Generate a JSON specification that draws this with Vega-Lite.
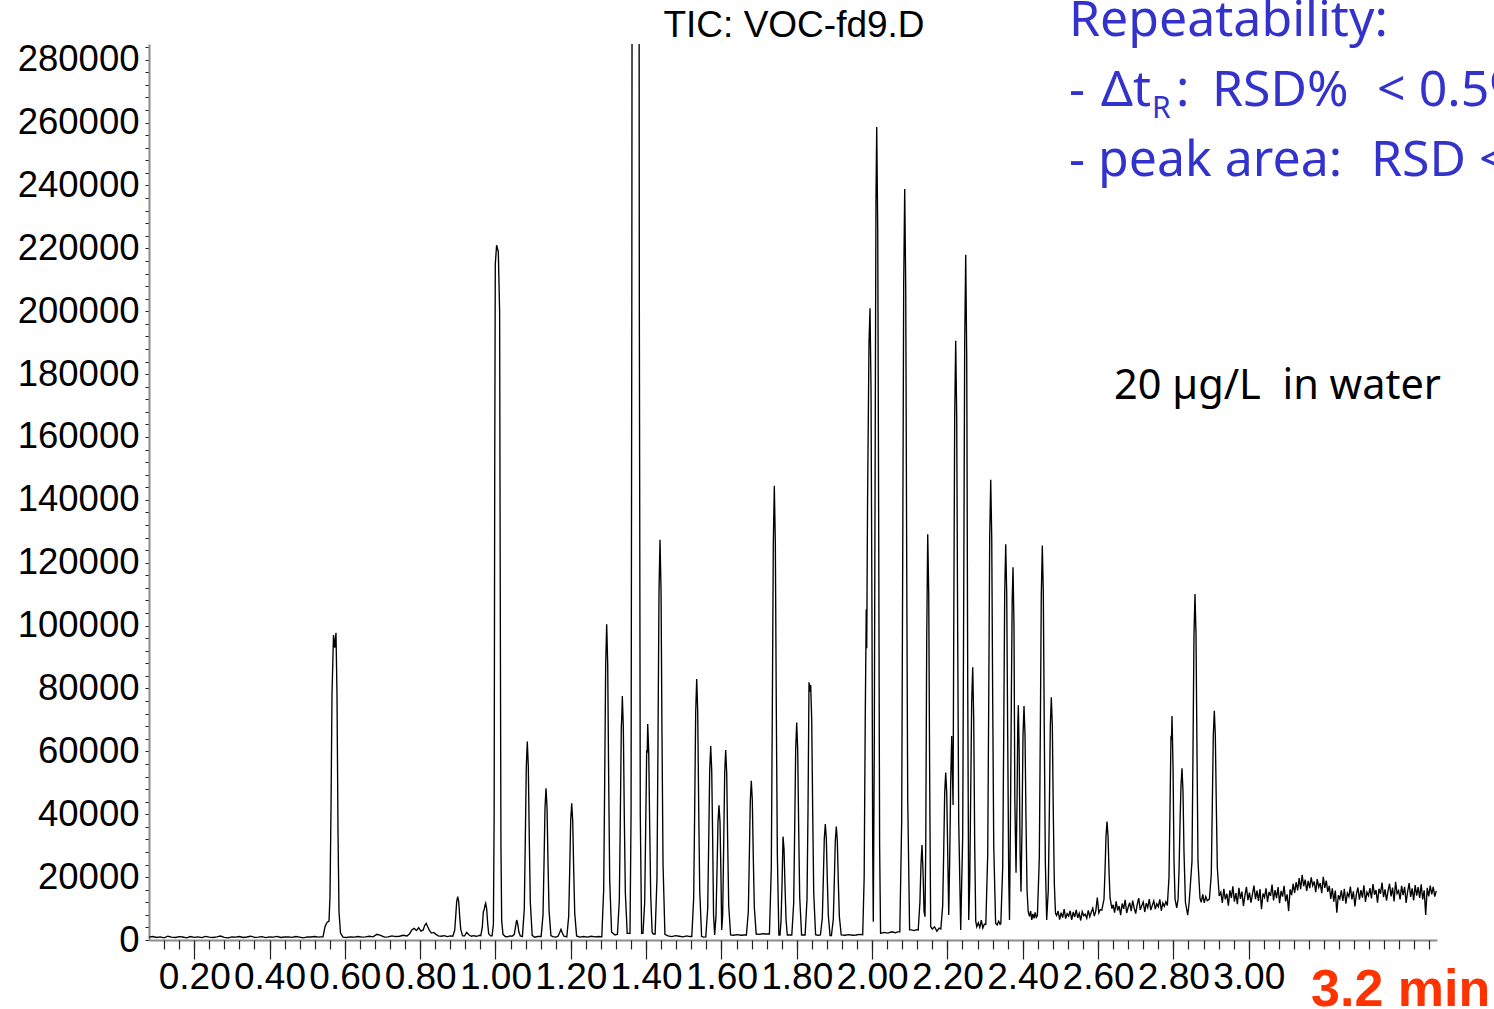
{
"$schema": "https://vega.github.io/schema/vega-lite/v6.json",
"width": 1288, "height": 896,
"autosize": {"type": "none"},
"padding": {"left": 149, "top": 44, "right": 57, "bottom": 69},
"background": "white",
"config": {"view": {"stroke": null}, "axis": {"grid": false, "labelFont": "Liberation Sans"}},
"resolve": {"axis": {"x": "independent", "y": "independent"}},
"layer": [
{
"data": {"values": [
{"t":0.08,"v":900},{"t":0.09,"v":1100},{"t":0.10,"v":800},{"t":0.11,"v":1000},{"t":0.12,"v":700},{"t":0.13,"v":1200},{"t":0.14,"v":900},{"t":0.15,"v":800},{"t":0.16,"v":1050},{"t":0.17,"v":950},{"t":0.18,"v":700},{"t":0.19,"v":1100},{"t":0.20,"v":850},{"t":0.21,"v":1000},{"t":0.22,"v":750},{"t":0.23,"v":1150},{"t":0.24,"v":900},{"t":0.25,"v":800},{"t":0.26,"v":1000},{"t":0.27,"v":1250},{"t":0.28,"v":850},{"t":0.29,"v":700},{"t":0.30,"v":1000},{"t":0.31,"v":900},{"t":0.32,"v":1100},{"t":0.33,"v":800},{"t":0.34,"v":950},{"t":0.35,"v":1200},{"t":0.36,"v":850},{"t":0.37,"v":900},{"t":0.38,"v":1050},{"t":0.39,"v":750},{"t":0.40,"v":1000},{"t":0.41,"v":900},{"t":0.42,"v":1150},{"t":0.43,"v":800},{"t":0.44,"v":950},{"t":0.45,"v":1000},{"t":0.46,"v":850},{"t":0.47,"v":1100},{"t":0.48,"v":900},{"t":0.49,"v":700},{"t":0.50,"v":1000},{"t":0.51,"v":950},{"t":0.52,"v":1100},{"t":0.53,"v":900},{"t":0.536,"v":1000},
{"t":0.542,"v":1000},{"t":0.5473,"v":4200},{"t":0.5526,"v":5600},{"t":0.558,"v":6000},{"t":0.5606,"v":14000},{"t":0.5633,"v":42000},{"t":0.5659,"v":78000},{"t":0.5699,"v":97000},{"t":0.5731,"v":93000},{"t":0.5765,"v":97700},{"t":0.5792,"v":78000},{"t":0.5819,"v":34000},{"t":0.5845,"v":9000},{"t":0.5885,"v":2200},{"t":0.5951,"v":900},
{"t":0.605,"v":800},{"t":0.615,"v":1000},{"t":0.625,"v":900},{"t":0.635,"v":1100},{"t":0.645,"v":900},{"t":0.655,"v":1000},{"t":0.665,"v":1200},{"t":0.675,"v":1000},{"t":0.685,"v":1800},{"t":0.695,"v":1500},{"t":0.705,"v":900},{"t":0.715,"v":1000},{"t":0.725,"v":1300},{"t":0.735,"v":1100},{"t":0.745,"v":1200},{"t":0.755,"v":1500},
{"t":0.765,"v":1300},{"t":0.772,"v":2000},{"t":0.778,"v":3200},{"t":0.784,"v":3700},{"t":0.79,"v":3000},{"t":0.796,"v":3900},{"t":0.802,"v":2800},{"t":0.808,"v":3200},{"t":0.812,"v":4600},{"t":0.816,"v":5300},{"t":0.82,"v":4200},{"t":0.825,"v":3000},{"t":0.83,"v":2200},{"t":0.836,"v":2400},{"t":0.842,"v":1800},{"t":0.848,"v":1300},{"t":0.856,"v":1200},{"t":0.864,"v":1400},{"t":0.872,"v":1100},{"t":0.88,"v":1300},
{"t":0.8867,"v":1200},{"t":0.8917,"v":3100},{"t":0.8944,"v":7500},{"t":0.897,"v":12200},{"t":0.8997,"v":13780},{"t":0.9024,"v":12200},{"t":0.905,"v":7500},{"t":0.9077,"v":3400},{"t":0.9127,"v":1300},{"t":0.918,"v":1300},{"t":0.9236,"v":2400},{"t":0.93,"v":1600},{"t":0.936,"v":1200},{"t":0.942,"v":1400},{"t":0.948,"v":1200},{"t":0.954,"v":1300},{"t":0.958,"v":1500},
{"t":0.961,"v":1400},{"t":0.965,"v":4000},{"t":0.9677,"v":9000},{"t":0.97,"v":9600},{"t":0.972,"v":11000},{"t":0.974,"v":11680},{"t":0.9767,"v":9800},{"t":0.9793,"v":5300},{"t":0.982,"v":2000},{"t":0.987,"v":1300},
{"t":0.991,"v":1300},{"t":0.9945,"v":5000},{"t":0.9965,"v":40000},{"t":0.998,"v":150000},{"t":0.9995,"v":215000},{"t":1.003,"v":221000},{"t":1.0075,"v":219000},{"t":1.011,"v":200000},{"t":1.0125,"v":120000},{"t":1.0145,"v":30000},{"t":1.0165,"v":6000},{"t":1.02,"v":1800},{"t":1.026,"v":1100},{"t":1.032,"v":1000},{"t":1.038,"v":1300},
{"t":1.044,"v":1200},{"t":1.05,"v":1800},{"t":1.0536,"v":4500},{"t":1.0563,"v":6360},{"t":1.059,"v":5200},{"t":1.062,"v":2600},{"t":1.066,"v":1300},
{"t":1.0715,"v":1100},{"t":1.0765,"v":9800},{"t":1.0792,"v":32000},{"t":1.0818,"v":55000},{"t":1.0845,"v":63100},{"t":1.0872,"v":55000},{"t":1.0898,"v":32000},{"t":1.0925,"v":12000},{"t":1.0975,"v":1500},{"t":1.104,"v":900},{"t":1.112,"v":1100},
{"t":1.1212,"v":1100},{"t":1.1262,"v":8000},{"t":1.1289,"v":24500},{"t":1.1315,"v":42000},{"t":1.1342,"v":48260},{"t":1.1369,"v":42000},{"t":1.1395,"v":24500},{"t":1.1422,"v":9500},{"t":1.1472,"v":1400},
{"t":1.152,"v":1100},{"t":1.16,"v":900},{"t":1.166,"v":1200},{"t":1.17,"v":2200},{"t":1.174,"v":3400},{"t":1.178,"v":2100},{"t":1.182,"v":1200},
{"t":1.1894,"v":1000},{"t":1.1944,"v":7500},{"t":1.1971,"v":22300},{"t":1.1997,"v":37900},{"t":1.2024,"v":43500},{"t":1.2051,"v":37900},{"t":1.2077,"v":22300},{"t":1.2104,"v":8600},{"t":1.2154,"v":1300},
{"t":1.224,"v":900},{"t":1.234,"v":1100},{"t":1.244,"v":900},{"t":1.254,"v":1200},{"t":1.264,"v":1000},{"t":1.274,"v":1100},
{"t":1.2823,"v":1000},{"t":1.2873,"v":16000},{"t":1.29,"v":50700},{"t":1.2926,"v":87500},{"t":1.2953,"v":100440},{"t":1.298,"v":87500},{"t":1.3006,"v":50700},{"t":1.3033,"v":19000},{"t":1.3083,"v":2500},{"t":1.3174,"v":1600},
{"t":1.3238,"v":1800},{"t":1.3288,"v":12500},{"t":1.3315,"v":39000},{"t":1.3341,"v":67500},{"t":1.3358,"v":72640},{"t":1.3368,"v":77630},{"t":1.3395,"v":67500},{"t":1.3421,"v":39000},{"t":1.3448,"v":15000},{"t":1.3498,"v":2100},
{"t":1.3572,"v":2100},{"t":1.36,"v":40000},{"t":1.362,"v":200000},{"t":1.364,"v":500000},{"t":1.372,"v":800000},{"t":1.38,"v":500000},{"t":1.382,"v":200000},{"t":1.3845,"v":40000},{"t":1.388,"v":2100},
{"t":1.3917,"v":2200},{"t":1.3962,"v":12000},{"t":1.3989,"v":36000},{"t":1.4015,"v":60000},{"t":1.403,"v":59900},{"t":1.4042,"v":68720},{"t":1.4069,"v":60000},{"t":1.4095,"v":36000},{"t":1.4122,"v":14000},{"t":1.416,"v":2400},{"t":1.4191,"v":1900},
{"t":1.4239,"v":1900},{"t":1.4289,"v":20000},{"t":1.4316,"v":64500},{"t":1.4342,"v":111000},{"t":1.4369,"v":127270},{"t":1.4396,"v":111000},{"t":1.4422,"v":64500},{"t":1.4449,"v":24000},{"t":1.4499,"v":1800},
{"t":1.458,"v":1300},{"t":1.468,"v":1100},{"t":1.478,"v":1400},{"t":1.488,"v":1200},{"t":1.498,"v":1000},{"t":1.508,"v":1300},{"t":1.516,"v":1100},
{"t":1.5213,"v":1100},{"t":1.5263,"v":13400},{"t":1.529,"v":42000},{"t":1.5316,"v":72400},{"t":1.5343,"v":83040},{"t":1.537,"v":72400},{"t":1.5396,"v":42000},{"t":1.5423,"v":15800},{"t":1.5473,"v":1200},{"t":1.5518,"v":900},
{"t":1.5585,"v":1000},{"t":1.5635,"v":10000},{"t":1.5662,"v":31300},{"t":1.5688,"v":53800},{"t":1.5715,"v":61720},{"t":1.5742,"v":53800},{"t":1.5768,"v":31300},{"t":1.579,"v":8000},{"t":1.582,"v":1600},
{"t":1.5855,"v":7500},{"t":1.5882,"v":21900},{"t":1.5908,"v":37500},{"t":1.5935,"v":42860},{"t":1.5962,"v":37500},{"t":1.5988,"v":20000},{"t":1.6007,"v":3200},
{"t":1.6033,"v":8000},{"t":1.606,"v":30800},{"t":1.6086,"v":52900},{"t":1.6113,"v":60450},{"t":1.614,"v":52900},{"t":1.6166,"v":30800},{"t":1.6193,"v":11000},{"t":1.6243,"v":1600},
{"t":1.632,"v":1500},{"t":1.642,"v":1700},{"t":1.652,"v":1500},{"t":1.66,"v":1600},
{"t":1.6663,"v":1600},{"t":1.6713,"v":8900},{"t":1.674,"v":26100},{"t":1.6766,"v":44300},{"t":1.6793,"v":50680},{"t":1.682,"v":44300},{"t":1.6846,"v":26100},{"t":1.6873,"v":10400},{"t":1.6923,"v":1900},
{"t":1.7,"v":1800},{"t":1.71,"v":2000},{"t":1.718,"v":1900},
{"t":1.7274,"v":1900},{"t":1.7324,"v":23000},{"t":1.7351,"v":73200},{"t":1.7377,"v":125900},{"t":1.7404,"v":144450},{"t":1.7431,"v":125900},{"t":1.7457,"v":73200},{"t":1.7484,"v":27500},{"t":1.7525,"v":1600},
{"t":1.7555,"v":1600},{"t":1.7582,"v":6000},{"t":1.7608,"v":17200},{"t":1.7635,"v":32870},{"t":1.7662,"v":28800},{"t":1.7688,"v":17200},{"t":1.7715,"v":6500},{"t":1.7748,"v":1600},
{"t":1.7868,"v":1600},{"t":1.7918,"v":11700},{"t":1.7945,"v":35400},{"t":1.7971,"v":60400},{"t":1.7998,"v":69140},{"t":1.8025,"v":60400},{"t":1.8051,"v":35400},{"t":1.8078,"v":13700},{"t":1.8128,"v":1600},
{"t":1.8222,"v":1600},{"t":1.8272,"v":13000},{"t":1.8299,"v":41800},{"t":1.8325,"v":82000},{"t":1.8348,"v":79000},{"t":1.837,"v":81130},{"t":1.8397,"v":70000},{"t":1.8423,"v":41000},{"t":1.845,"v":15000},{"t":1.85,"v":1700},{"t":1.856,"v":1500},
{"t":1.8628,"v":1600},{"t":1.8678,"v":6900},{"t":1.8705,"v":19200},{"t":1.8731,"v":32300},{"t":1.8758,"v":36900},{"t":1.8785,"v":32300},{"t":1.8811,"v":19200},{"t":1.8838,"v":7800},{"t":1.8883,"v":1400},
{"t":1.892,"v":1400},{"t":1.897,"v":6600},{"t":1.8997,"v":18700},{"t":1.9023,"v":31500},{"t":1.905,"v":36050},{"t":1.9077,"v":31500},{"t":1.9103,"v":18700},{"t":1.913,"v":7600},{"t":1.918,"v":1600},
{"t":1.928,"v":1500},{"t":1.938,"v":1700},{"t":1.948,"v":1500},{"t":1.958,"v":1600},{"t":1.966,"v":1800},
{"t":1.9751,"v":1700},{"t":1.979,"v":20000},{"t":1.9818,"v":70000},{"t":1.9845,"v":105200},{"t":1.9858,"v":92800},{"t":1.988,"v":140000},{"t":1.9918,"v":190000},{"t":1.9945,"v":200970},{"t":1.9972,"v":175000},{"t":1.9998,"v":100000},{"t":2.0016,"v":30000},{"t":2.0032,"v":5820},
{"t":2.0058,"v":60000},{"t":2.0083,"v":160000},{"t":2.0103,"v":235000},{"t":2.0123,"v":258580},{"t":2.015,"v":225000},{"t":2.0176,"v":129000},{"t":2.02,"v":30000},{"t":2.0225,"v":2100},
{"t":2.032,"v":2400},{"t":2.042,"v":2200},{"t":2.052,"v":2600},{"t":2.062,"v":2300},{"t":2.068,"v":2600},
{"t":2.0736,"v":2600},{"t":2.0786,"v":38000},{"t":2.0813,"v":120700},{"t":2.0839,"v":208000},{"t":2.0866,"v":238850},{"t":2.0893,"v":208000},{"t":2.0919,"v":120700},{"t":2.0946,"v":45000},{"t":2.0996,"v":3200},
{"t":2.104,"v":3200},{"t":2.112,"v":3000},{"t":2.118,"v":3300},
{"t":2.1225,"v":3200},{"t":2.127,"v":12000},{"t":2.1298,"v":24000},{"t":2.1325,"v":30230},{"t":2.1352,"v":22000},{"t":2.138,"v":9000},{"t":2.1405,"v":7400},{"t":2.1425,"v":30000},{"t":2.145,"v":95000},{"t":2.1477,"v":129080},{"t":2.1504,"v":110000},{"t":2.153,"v":50000},{"t":2.1556,"v":4240},
{"t":2.16,"v":3500},{"t":2.166,"v":4200},{"t":2.172,"v":2800},{"t":2.178,"v":3800},
{"t":2.1825,"v":3500},{"t":2.1875,"v":11000},{"t":2.1902,"v":28300},{"t":2.1928,"v":46800},{"t":2.1955,"v":53230},{"t":2.1982,"v":46800},{"t":2.2008,"v":28000},{"t":2.2035,"v":7950},
{"t":2.206,"v":25000},{"t":2.2087,"v":50000},{"t":2.2114,"v":64900},{"t":2.215,"v":42950},{"t":2.2167,"v":95000},{"t":2.2193,"v":166000},{"t":2.222,"v":190580},{"t":2.2247,"v":166000},{"t":2.2273,"v":96000},{"t":2.23,"v":38000},{"t":2.2353,"v":3180},
{"t":2.2406,"v":33000},{"t":2.2433,"v":109000},{"t":2.2459,"v":190000},{"t":2.2486,"v":217940},{"t":2.2513,"v":185000},{"t":2.254,"v":80000},{"t":2.2566,"v":6360},
{"t":2.2592,"v":18000},{"t":2.2619,"v":47000},{"t":2.2645,"v":76000},{"t":2.2672,"v":86770},{"t":2.2699,"v":70000},{"t":2.2725,"v":30000},{"t":2.2752,"v":6000},{"t":2.278,"v":4240},
{"t":2.282,"v":5500},{"t":2.286,"v":4000},{"t":2.29,"v":6300},{"t":2.294,"v":3800},{"t":2.298,"v":5000},
{"t":2.302,"v":5000},{"t":2.307,"v":27000},{"t":2.3097,"v":75700},{"t":2.3123,"v":128000},{"t":2.315,"v":146360},{"t":2.3177,"v":128000},{"t":2.3203,"v":75700},{"t":2.323,"v":30000},{"t":2.328,"v":5300},
{"t":2.332,"v":4800},{"t":2.336,"v":6000},{"t":2.34,"v":5000},
{"t":2.3418,"v":5200},{"t":2.3468,"v":23000},{"t":2.3495,"v":65000},{"t":2.3521,"v":110000},{"t":2.3548,"v":125900},{"t":2.3575,"v":110000},{"t":2.3601,"v":65000},{"t":2.3628,"v":20000},{"t":2.3649,"v":6400},
{"t":2.3675,"v":40000},{"t":2.37,"v":80000},{"t":2.372,"v":108000},{"t":2.3742,"v":118580},{"t":2.3768,"v":100000},{"t":2.379,"v":45000},{"t":2.3822,"v":21400},
{"t":2.385,"v":45000},{"t":2.3868,"v":68000},{"t":2.3883,"v":74680},{"t":2.3905,"v":60000},{"t":2.393,"v":28000},{"t":2.3954,"v":15370},
{"t":2.398,"v":35000},{"t":2.4007,"v":65000},{"t":2.4034,"v":74450},{"t":2.4061,"v":65000},{"t":2.4087,"v":38000},{"t":2.4114,"v":16000},{"t":2.4145,"v":9000},
{"t":2.418,"v":7500},{"t":2.421,"v":9200},{"t":2.424,"v":6400},{"t":2.427,"v":8300},{"t":2.43,"v":6900},{"t":2.433,"v":8800},{"t":2.436,"v":7200},
{"t":2.439,"v":7800},{"t":2.444,"v":26000},{"t":2.4467,"v":66000},{"t":2.4493,"v":110000},{"t":2.452,"v":125470},{"t":2.4547,"v":110000},{"t":2.4573,"v":66000},{"t":2.46,"v":25000},{"t":2.4636,"v":6360},
{"t":2.4679,"v":16000},{"t":2.4706,"v":40000},{"t":2.4732,"v":68000},{"t":2.4759,"v":77220},{"t":2.4786,"v":68000},{"t":2.4812,"v":40000},{"t":2.4839,"v":18000},{"t":2.487,"v":8500},
{"t":2.490,"v":7800},{"t":2.494,"v":9200},{"t":2.498,"v":6500},{"t":2.502,"v":8700},{"t":2.506,"v":7100},{"t":2.510,"v":9800},{"t":2.514,"v":6800},{"t":2.518,"v":8400},{"t":2.522,"v":7600},{"t":2.526,"v":9300},{"t":2.530,"v":6400},{"t":2.534,"v":8900},{"t":2.538,"v":7300},{"t":2.542,"v":9600},{"t":2.546,"v":7000},{"t":2.550,"v":8500},{"t":2.554,"v":6200},{"t":2.558,"v":9000},{"t":2.562,"v":7700},{"t":2.566,"v":8200},{"t":2.570,"v":6900},{"t":2.574,"v":9400},{"t":2.578,"v":7400},{"t":2.582,"v":8800},{"t":2.586,"v":10100},{"t":2.590,"v":7600},{"t":2.594,"v":9200},{"t":2.598,"v":13500},{"t":2.602,"v":8600},{"t":2.606,"v":9700},{"t":2.610,"v":9500},
{"t":2.6158,"v":13000},{"t":2.6185,"v":22000},{"t":2.6211,"v":33000},{"t":2.6238,"v":37640},{"t":2.6265,"v":33000},{"t":2.6291,"v":22000},{"t":2.6318,"v":13500},{"t":2.6368,"v":10000},
{"t":2.640,"v":11200},{"t":2.644,"v":8700},{"t":2.648,"v":12300},{"t":2.652,"v":9400},{"t":2.656,"v":10800},{"t":2.660,"v":7900},{"t":2.664,"v":11600},{"t":2.668,"v":9900},{"t":2.672,"v":12800},{"t":2.676,"v":8600},{"t":2.680,"v":10400},{"t":2.684,"v":11900},{"t":2.688,"v":9200},{"t":2.692,"v":12500},{"t":2.696,"v":10100},{"t":2.700,"v":8400},{"t":2.704,"v":11300},{"t":2.708,"v":13300},{"t":2.712,"v":9600},{"t":2.716,"v":10900},{"t":2.720,"v":12100},{"t":2.724,"v":8900},{"t":2.728,"v":11700},{"t":2.732,"v":10300},{"t":2.736,"v":13000},{"t":2.740,"v":9500},{"t":2.744,"v":11000},{"t":2.748,"v":12400},{"t":2.752,"v":9800},{"t":2.756,"v":11500},{"t":2.760,"v":10600},{"t":2.764,"v":12900},{"t":2.768,"v":9300},{"t":2.772,"v":11800},{"t":2.776,"v":10700},{"t":2.780,"v":12200},{"t":2.784,"v":11000},
{"t":2.7884,"v":20000},{"t":2.7911,"v":42000},{"t":2.7937,"v":65000},{"t":2.795,"v":63630},{"t":2.7964,"v":71270},{"t":2.7991,"v":55000},{"t":2.8017,"v":25000},{"t":2.8045,"v":13000},{"t":2.8089,"v":10180},
{"t":2.8125,"v":13000},{"t":2.8152,"v":23000},{"t":2.8176,"v":37000},{"t":2.8202,"v":49000},{"t":2.8229,"v":54630},{"t":2.8256,"v":47000},{"t":2.8282,"v":28000},{"t":2.832,"v":12000},{"t":2.8381,"v":7950},
{"t":2.842,"v":12000},{"t":2.8494,"v":25000},{"t":2.8521,"v":60000},{"t":2.8547,"v":97000},{"t":2.8574,"v":110080},{"t":2.8601,"v":97000},{"t":2.8627,"v":60000},{"t":2.8654,"v":25000},{"t":2.8707,"v":13270},
{"t":2.874,"v":12000},{"t":2.878,"v":14500},{"t":2.882,"v":11800},{"t":2.886,"v":13800},{"t":2.89,"v":12500},
{"t":2.8957,"v":13000},{"t":2.9007,"v":21000},{"t":2.9034,"v":43000},{"t":2.906,"v":65000},{"t":2.9087,"v":72950},{"t":2.9114,"v":65000},{"t":2.914,"v":43000},{"t":2.9167,"v":23000},{"t":2.9217,"v":14000},
{"t":2.926,"v":15200},{"t":2.930,"v":11800},{"t":2.934,"v":16300},{"t":2.938,"v":12900},{"t":2.942,"v":14700},{"t":2.946,"v":10900},{"t":2.950,"v":15800},{"t":2.954,"v":13400},{"t":2.958,"v":17100},{"t":2.962,"v":12200},
{"t":2.966,"v":14900},{"t":2.970,"v":11400},{"t":2.974,"v":16600},{"t":2.978,"v":13100},{"t":2.982,"v":15400},{"t":2.986,"v":10800},{"t":2.990,"v":14200},{"t":2.994,"v":16900},{"t":2.998,"v":12700},{"t":3.002,"v":15100},
{"t":3.006,"v":11900},{"t":3.010,"v":14600},{"t":3.014,"v":17300},{"t":3.018,"v":13000},{"t":3.022,"v":15700},{"t":3.026,"v":12400},{"t":3.030,"v":16200},{"t":3.034,"v":9800},{"t":3.038,"v":14800},{"t":3.042,"v":13600},
{"t":3.046,"v":16400},{"t":3.050,"v":12100},{"t":3.054,"v":15300},{"t":3.058,"v":14000},{"t":3.062,"v":17600},{"t":3.066,"v":12600},{"t":3.070,"v":15900},{"t":3.074,"v":13300},{"t":3.078,"v":16800},{"t":3.082,"v":11700},
{"t":3.086,"v":15600},{"t":3.090,"v":13800},{"t":3.094,"v":17200},{"t":3.098,"v":12300},{"t":3.102,"v":14500},{"t":3.106,"v":9200},{"t":3.110,"v":16100},{"t":3.114,"v":14300},{"t":3.118,"v":17900},{"t":3.122,"v":15000},
{"t":3.126,"v":18400},{"t":3.130,"v":15800},{"t":3.134,"v":19700},{"t":3.138,"v":16200},{"t":3.142,"v":20700},{"t":3.146,"v":17100},{"t":3.150,"v":19200},{"t":3.154,"v":15600},{"t":3.158,"v":18800},{"t":3.162,"v":16500},
{"t":3.166,"v":19900},{"t":3.170,"v":17300},{"t":3.174,"v":18600},{"t":3.178,"v":15200},{"t":3.182,"v":19400},{"t":3.186,"v":16800},{"t":3.190,"v":18100},{"t":3.194,"v":14900},{"t":3.198,"v":20100},{"t":3.202,"v":16600},
{"t":3.206,"v":18900},{"t":3.210,"v":15300},{"t":3.214,"v":17200},{"t":3.218,"v":13100},{"t":3.222,"v":16400},{"t":3.226,"v":12200},{"t":3.230,"v":15700},{"t":3.234,"v":8700},{"t":3.238,"v":14200},{"t":3.242,"v":13100},
{"t":3.246,"v":15800},{"t":3.250,"v":12400},{"t":3.254,"v":16300},{"t":3.258,"v":11600},{"t":3.262,"v":14900},{"t":3.266,"v":13800},{"t":3.270,"v":17000},{"t":3.274,"v":12900},{"t":3.278,"v":15500},{"t":3.282,"v":10700},
{"t":3.286,"v":14600},{"t":3.290,"v":16700},{"t":3.294,"v":12800},{"t":3.298,"v":15900},{"t":3.302,"v":13500},{"t":3.306,"v":17400},{"t":3.310,"v":12100},{"t":3.314,"v":15200},{"t":3.318,"v":14100},{"t":3.322,"v":16500},
{"t":3.326,"v":13200},{"t":3.330,"v":17800},{"t":3.334,"v":14400},{"t":3.338,"v":15900},{"t":3.342,"v":11900},{"t":3.346,"v":16300},{"t":3.350,"v":14700},{"t":3.354,"v":18300},{"t":3.358,"v":13600},{"t":3.362,"v":16100},
{"t":3.366,"v":12500},{"t":3.370,"v":15600},{"t":3.374,"v":17900},{"t":3.378,"v":13900},{"t":3.382,"v":16700},{"t":3.386,"v":12300},{"t":3.390,"v":18500},{"t":3.394,"v":14800},{"t":3.398,"v":15700},{"t":3.402,"v":12900},
{"t":3.406,"v":17200},{"t":3.410,"v":14300},{"t":3.414,"v":16900},{"t":3.418,"v":11800},{"t":3.422,"v":15400},{"t":3.426,"v":18100},{"t":3.430,"v":13700},{"t":3.434,"v":16400},{"t":3.438,"v":12600},{"t":3.442,"v":17500},
{"t":3.446,"v":14100},{"t":3.450,"v":16800},{"t":3.454,"v":13400},{"t":3.458,"v":17700},{"t":3.462,"v":12900},{"t":3.466,"v":15800},{"t":3.470,"v":7950},{"t":3.474,"v":16600},{"t":3.478,"v":13900},{"t":3.482,"v":17300},
{"t":3.486,"v":14500},{"t":3.490,"v":16900},{"t":3.494,"v":13800},{"t":3.498,"v":15600}
]},
"mark": {"type": "line", "color": "#000000", "strokeWidth": 1.35, "clip": true},
"encoding": {
"x": {"field": "t", "type": "quantitative", "scale": {"domain": [0.08, 3.5], "nice": false, "zero": false},
 "axis": {"orient": "bottom", "values": [0.2,0.4,0.6,0.8,1.0,1.2,1.4,1.6,1.8,2.0,2.2,2.4,2.6,2.8,3.0], "format": ".2f", "title": null, "grid": false, "labelFont": "Liberation Sans", "labelFontSize": 37, "labelColor": "#000000", "tickSize": 19, "tickColor": "#222222", "tickWidth": 1.2, "domainColor": "#8c8c8c", "domainWidth": 2, "labelPadding": 0, "labelFlush": false, "labelOverlap": false, "labelBound": false}},
"y": {"field": "v", "type": "quantitative", "scale": {"domain": [0, 285000], "nice": false},
 "axis": {"orient": "left", "values": [0,4000,8000,12000,16000,20000,24000,28000,32000,36000,40000,44000,48000,52000,56000,60000,64000,68000,72000,76000,80000,84000,88000,92000,96000,100000,104000,108000,112000,116000,120000,124000,128000,132000,136000,140000,144000,148000,152000,156000,160000,164000,168000,172000,176000,180000,184000,188000,192000,196000,200000,204000,208000,212000,216000,220000,224000,228000,232000,236000,240000,244000,248000,252000,256000,260000,264000,268000,272000,276000,280000,284000], "format": "d", "labelExpr": "datum.value % 20000 == 0 ? datum.label : ''", "title": null, "grid": false, "labelFont": "Liberation Sans", "labelFontSize": 36.5, "labelColor": "#000000", "tickSize": 4, "tickColor": "#222222", "domainColor": "#8c8c8c", "domainWidth": 2, "labelPadding": 6, "labelOverlap": false, "labelFlush": false, "labelBound": false}}
}
},
{
"data": {"values": [{"t": 3.1655, "v": -21000, "label": "3.2 min"}]},
"mark": {"type": "text", "font": "Liberation Sans", "fontSize": 52, "fontWeight": "bold", "color": "#ff3300", "align": "left", "baseline": "alphabetic"},
"encoding": {
"x": {"field": "t", "type": "quantitative", "axis": {"orient": "bottom", "values": [0.12,0.16,0.2,0.24,0.28,0.32,0.36,0.4,0.44,0.48,0.52,0.56,0.6,0.64,0.68,0.72,0.76,0.8,0.84,0.88,0.92,0.96,1,1.04,1.08,1.12,1.16,1.2,1.24,1.28,1.32,1.36,1.4,1.44,1.48,1.52,1.56,1.6,1.64,1.68,1.72,1.76,1.8,1.84,1.88,1.92,1.96,2,2.04,2.08,2.12,2.16,2.2,2.24,2.28,2.32,2.36,2.4,2.44,2.48,2.52,2.56,2.6,2.64,2.68,2.72,2.76,2.8,2.84,2.88,2.92,2.96,3,3.04,3.08,3.12,3.16,3.2,3.24,3.28,3.32,3.36,3.4,3.44,3.48], "labels": false, "domain": false, "tickSize": 9, "tickColor": "#222222", "tickWidth": 1.2, "title": null, "grid": false}},
"y": {"field": "v", "type": "quantitative", "axis": null},
"text": {"field": "label"}
}
},
{
"data": {"values": [{"t": 1.7927, "v": 287210, "label": "TIC: VOC-fd9.D"}]},
"mark": {"type": "text", "font": "Liberation Sans", "fontSize": 37, "color": "#000000", "align": "center", "baseline": "alphabetic"},
"encoding": {
"x": {"field": "t", "type": "quantitative", "axis": null},
"y": {"field": "v", "type": "quantitative", "axis": null},
"text": {"field": "label"}
}
},
{
"data": {"values": [
{"t": 2.5229, "v": 287400, "label": "Repeatability:"},
{"t": 2.5229, "v": 265350, "label": "-"},
{"t": 2.6078, "v": 265350, "label": "Δt"},
{"t": 2.807, "v": 265350, "label": ":"},
{"t": 2.9026, "v": 265350, "label": "RSD%"},
{"t": 3.3408, "v": 265350, "label": "< 0.5%"},
{"t": 2.5229, "v": 243080, "label": "- peak area:"},
{"t": 3.3248, "v": 243080, "label": "RSD <"}
]},
"mark": {"type": "text", "font": "Noto Sans", "fontSize": 50, "color": "#3333cc", "align": "left", "baseline": "alphabetic"},
"encoding": {
"x": {"field": "t", "type": "quantitative", "axis": null},
"y": {"field": "v", "type": "quantitative", "axis": null},
"text": {"field": "label"}
}
},
{
"data": {"values": [{"t": 2.7433, "v": 261530, "label": "R"}]},
"mark": {"type": "text", "font": "Noto Sans", "fontSize": 30, "color": "#3333cc", "align": "left", "baseline": "alphabetic"},
"encoding": {
"x": {"field": "t", "type": "quantitative", "axis": null},
"y": {"field": "v", "type": "quantitative", "axis": null},
"text": {"field": "label"}
}
},
{
"data": {"values": [{"t": 2.6424, "v": 172130, "label": "20 µg/L\u00a0 in water"}]},
"mark": {"type": "text", "font": "Noto Sans", "fontSize": 41.5, "color": "#000000", "align": "left", "baseline": "alphabetic"},
"encoding": {
"x": {"field": "t", "type": "quantitative", "axis": null},
"y": {"field": "v", "type": "quantitative", "axis": null},
"text": {"field": "label"}
}
}
]
}
